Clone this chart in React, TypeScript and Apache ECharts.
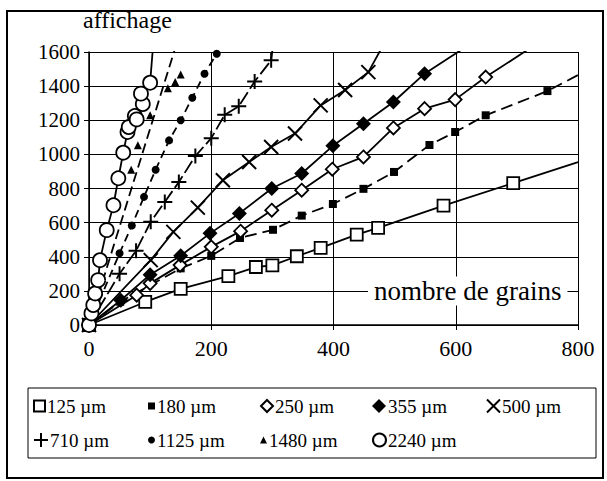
import React, { useEffect, useRef } from 'react';
import * as echarts from 'echarts';

const FONT = 'Liberation Serif';

// axis ranges
const xMin = 0, xMax = 800, xStep = 200;
const yMin = 0, yMax = 1600, yStep = 200;

const titleY = 'affichage';
const titleX = 'nombre de grains';

const seriesNames = ['125 µm', '180 µm', '250 µm', '355 µm', '500 µm', '710 µm', '1125 µm', '1480 µm', '2240 µm'];

// points [nombre de grains, affichage]
const p125 = [[0, 0], [92, 135], [150, 212], [228, 286], [273, 340], [300, 350], [340, 403], [379, 452], [438, 530], [473, 569], [580, 700], [694, 832]];
const p180 = [[0, 0], [51, 136], [150, 332], [200, 405], [247, 510], [301, 558], [348, 641], [399, 709], [449, 798], [499, 897], [557, 1055], [599, 1131], [649, 1229], [750, 1371]];
const p250 = [[0, 0], [78, 175], [100, 244], [149, 351], [200, 458], [248, 550], [299, 673], [348, 790], [398, 913], [449, 985], [498, 1155], [549, 1268], [599, 1321], [649, 1453]];
const p355 = [[0, 0], [52, 145], [100, 295], [150, 406], [198, 537], [246, 654], [299, 800], [348, 888], [399, 1050], [449, 1180], [498, 1307], [549, 1473]];
const p500 = [[0, 0], [101, 380], [138, 546], [178, 688], [219, 848], [262, 955], [298, 1043], [337, 1122], [379, 1287], [419, 1377], [457, 1482]];
const p710 = [[0, 0], [50, 300], [77, 435], [101, 605], [124, 721], [147, 838], [174, 990], [200, 1095], [222, 1232], [245, 1282], [271, 1427], [298, 1551]];
const p1125 = [[0, 0], [50, 420], [70, 583], [90, 751], [109, 910], [131, 1082], [150, 1200], [169, 1332], [189, 1473], [209, 1590]];
const p1480 = [[0, 0], [69, 910], [80, 1053], [100, 1229], [129, 1387], [141, 1424], [150, 1468]];
const p2240 = [[0, 0], [4, 68], [7, 117], [10, 185], [15, 263], [18, 380], [29, 556], [40, 702], [48, 860], [56, 1010], [63, 1131], [65, 1160], [75, 1225], [78, 1205], [88, 1295], [85, 1356], [100, 1420]];

const seriesPoints = [p125, p180, p250, p355, p500, p710, p1125, p1480, p2240];

// where each drawn line ends
const lineEnds = [[800, 955], [800, 1465], [724, 1628], [620, 1638], [481, 1638], [301, 1638], [213, 1620], [146, 1680], [104, 1600]];
// false: the line is a straight trend from the origin, not through the points
const lineThroughPoints = [true, true, true, true, true, true, true, false, true];

const X_PATH = 'path://M0,0L10,10M10,0L0,10';
const PLUS_PATH = 'path://M5,0L5,10M0,5L10,5';

const markerStyle = [
  { symbol: 'rect', size: 12, fill: '#fff', bw: 1.8 },
  { symbol: 'rect', size: 8, fill: '#000', bw: 0 },
  { symbol: 'diamond', size: 13, fill: '#fff', bw: 1.8 },
  { symbol: 'diamond', size: 15, fill: '#000', bw: 0 },
  { symbol: X_PATH, size: 14, fill: '#000', bw: 2 },
  { symbol: PLUS_PATH, size: 15, fill: '#000', bw: 2 },
  { symbol: 'circle', size: 8, fill: '#000', bw: 0 },
  { symbol: 'triangle', size: 8, fill: '#000', bw: 0 },
  { symbol: 'circle', size: 14, fill: '#fff', bw: 1.8 },
];
const lineTypes: any[] = ['solid', [12, 6], 'solid', 'solid', 'solid', [14, 4], [8, 5], [10, 5], 'solid'];

const legendPos = [[33, 406], [148, 406], [260, 406], [372, 406], [486, 406], [33, 440], [148, 440], [260, 440], [372, 440]];

export default function App() {
  const ref = useRef<HTMLDivElement>(null);
  useEffect(() => {
    if (!ref.current) return;
    const chart = echarts.init(ref.current, undefined, { renderer: 'svg' });
    const series: any[] = [];
    seriesNames.forEach((name, i) => {
      const pts = seriesPoints[i];
      const lineData = lineThroughPoints[i] ? [...pts, lineEnds[i]] : [[0, 0], lineEnds[i]];
      series.push({
        type: 'line',
        name: name + ' line',
        data: lineData,
        showSymbol: false,
        symbol: 'none',
        clip: true,
        silent: true,
        z: 2,
        lineStyle: { color: '#000', width: 1.8, type: lineTypes[i] },
      });
    });
    seriesNames.forEach((name, i) => {
      const m = markerStyle[i];
      series.push({
        type: 'scatter',
        name,
        data: seriesPoints[i],
        symbol: m.symbol,
        symbolSize: m.size,
        symbolKeepAspect: true,
        z: 3,
        itemStyle: { color: m.fill, borderColor: '#000', borderWidth: m.bw, opacity: 1 },
      });
    });
    const legends = seriesNames.map((name, i) => ({
      data: [name],
      left: legendPos[i][0],
      top: legendPos[i][1] - 10,
      padding: 0,
      itemGap: 0,
      itemWidth: markerStyle[i].size - 1,
      itemHeight: markerStyle[i].size - 1,
      selectedMode: false,
      textStyle: { fontFamily: FONT, fontSize: 19, color: '#000', lineHeight: 20, padding: [0, 0, 0, -3] },
    }));
    const axisCommon = {
      type: 'value',
      axisLine: { show: true, lineStyle: { color: '#000', width: 1.5 } },
      axisTick: { show: true, length: 5, lineStyle: { color: '#000' } },
      splitLine: { show: true, lineStyle: { color: '#000', width: 1 } },
    };
    const plain = (v: number) => String(v);
    chart.setOption({
      animation: false,
      backgroundColor: '#fff',
      grid: { left: 89, right: 29, top: 52, bottom: 156 },
      xAxis: {
        ...axisCommon,
        min: xMin, max: xMax, interval: xStep,
        axisLabel: { color: '#000', fontFamily: FONT, fontSize: 22, margin: 12, formatter: plain },
      },
      yAxis: {
        ...axisCommon,
        min: yMin, max: yMax, interval: yStep,
        axisLabel: { color: '#000', fontFamily: FONT, fontSize: 21, margin: 9, formatter: plain },
      },
      legend: legends,
      series,
      graphic: [
        { type: 'rect', shape: { x: 7, y: 11, width: 596, height: 467 }, style: { fill: 'none', stroke: '#000', lineWidth: 2 }, silent: true },
        { type: 'rect', shape: { x: 28, y: 388, width: 568, height: 70 }, style: { fill: 'none', stroke: '#000', lineWidth: 1 }, silent: true },
        { type: 'text', x: 83, y: 20, style: { text: titleY, fontFamily: FONT, fontSize: 24, fill: '#000', verticalAlign: 'middle', align: 'left' }, silent: true },
        { type: 'text', x: 368, y: 291, z: 100, style: { text: titleX, fontFamily: FONT, fontSize: 27, fill: '#000', verticalAlign: 'middle', align: 'left', backgroundColor: '#fff', padding: [1, 6, 1, 6] }, silent: true },
      ],
    });
    return () => chart.dispose();
  }, []);
  return <div ref={ref} style={{ position: 'fixed', left: 0, top: 0, width: 607, height: 481, background: '#fff' }} />;
}
